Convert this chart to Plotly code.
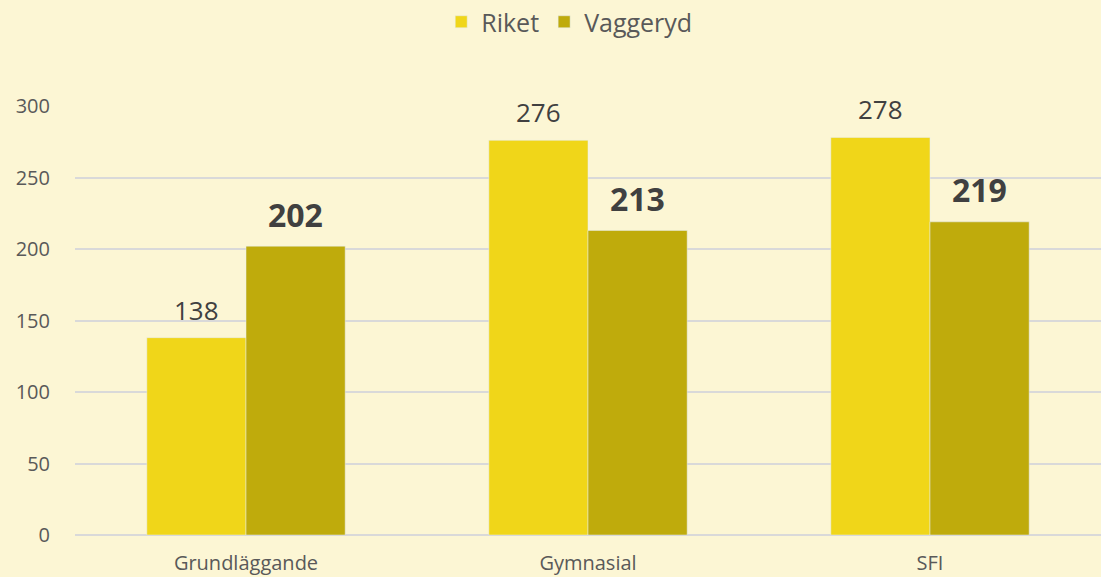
import plotly.graph_objects as go

categories = ["Grundläggande", "Gymnasial", "SFI"]
riket = [138, 276, 278]
vaggeryd = [202, 213, 219]
tick_vals = [0, 50, 100, 150, 200, 250, 300]

fig = go.Figure()
fig.add_trace(go.Bar(name="Riket", x=categories, y=riket, marker_color="#F0D619"))
fig.add_trace(go.Bar(name="Vaggeryd", x=categories, y=vaggeryd, marker_color="#BFAB0C"))

# value labels above the bars
half_bar = 342.7 * (1 - 0.42) / 4
for cat, v in zip(categories, riket):
    fig.add_annotation(x=cat, y=v, text=str(v), showarrow=False, xshift=-half_bar,
                       yanchor="middle", yshift=28,
                       font=dict(size=26, color="#404040", family="Open Sans"))
for cat, v in zip(categories, vaggeryd):
    fig.add_annotation(x=cat, y=v, text="<b>%d</b>" % v, showarrow=False, xshift=half_bar,
                       yanchor="middle", yshift=32,
                       font=dict(size=32, color="#404040", family="Open Sans"))

fig.update_layout(
    width=1101, height=577,
    barmode="group", bargap=0.42, bargroupgap=0,
    paper_bgcolor="#FCF6D4", plot_bgcolor="#FCF6D4",
    font=dict(family="Open Sans", color="#595959", size=20),
    margin=dict(l=75, r=0, t=106, b=42, autoexpand=False),
    legend=dict(orientation="h", x=0.517, xanchor="center", xref="container",
                y=1 - 22 / 577, yanchor="middle", yref="container",
                font=dict(size=25, color="#595959"), traceorder="normal",
                itemwidth=30),
)
fig.update_yaxes(range=[0, 300], tickvals=tick_vals, gridcolor="#D9D9D9", gridwidth=1.5,
                 zeroline=True, zerolinecolor="#D9D9D9", zerolinewidth=1.5,
                 showline=False, ticks="", ticklabelstandoff=24, tickfont=dict(size=20))
fig.update_xaxes(showline=False, ticks="", ticklabelstandoff=14, tickfont=dict(size=20))
fig.write_html("out.html", config={"displayModeBar": False})

with open("out.html", encoding="utf-8") as f:
    html = f.read()
html = html.replace("<head>", "<head><style>html,body{margin:0;padding:0;background:#FCF6D4;}</style>", 1)
with open("out.html", "w", encoding="utf-8") as f:
    f.write(html)
